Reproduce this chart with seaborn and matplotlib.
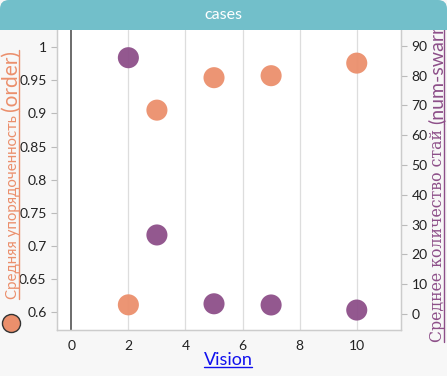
import matplotlib
matplotlib.use("Agg")
import matplotlib.pyplot as plt
import seaborn as sns
import pandas as pd
from matplotlib.patches import FancyBboxPatch, Rectangle
from matplotlib.lines import Line2D

vision = [2, 3, 5, 7, 10]
order = [0.611, 0.905, 0.954, 0.957, 0.976]
num_swarm = [86.0, 26.5, 3.4, 3.0, 1.3]

x_ticks = [0, 2, 4, 6, 8, 10]
left_ticks = [0.6, 0.65, 0.7, 0.75, 0.8, 0.85, 0.9, 0.95, 1]
left_tick_labels = ["0.6", "0.65", "0.7", "0.75", "0.8", "0.85", "0.9", "0.95", "1"]
right_ticks = [0, 10, 20, 30, 40, 50, 60, 70, 80, 90]

orange = "#EB8F6C"
purple = "#8D4F89"
teal = "#72BFCA"
grid_c = "#DDDDDD"
tick_c = "#222222"

df = pd.DataFrame({"vision": vision, "order": order, "num_swarm": num_swarm})

sns.set_style("white")
plt.rcParams["font.family"] = ["Lato", "DejaVu Sans"]

W, H = 447, 376
fig = plt.figure(figsize=(W / 100, H / 100), dpi=100, facecolor="#F7F7F7")


def fx(px):
    return px / W


def fy(py):
    return 1 - py / H


ax = fig.add_axes([fx(57), fy(330), fx(401 - 57), 300 / H])
ax.set_facecolor("white")
ax2 = ax.twinx()

sns.scatterplot(data=df, x="vision", y="order", ax=ax, color=orange, s=230,
                edgecolor="none", alpha=0.95, zorder=3, legend=False)
sns.scatterplot(data=df, x="vision", y="num_swarm", ax=ax2, color=purple, s=230,
                edgecolor="none", alpha=0.95, zorder=3, legend=False)

ax.set_xlim(-0.5, 11.55)
ax.set_ylim(0.573, 1.026)
ax2.set_ylim(-5.4, 95.3)

ax.set_xticks(x_ticks)
for xv in x_ticks[1:]:
    ax.axvline(xv, color=grid_c, lw=0.9, zorder=0)
ax.axvline(0, color="#444444", lw=1.1, zorder=1)

ax.set_yticks(left_ticks)
ax.set_yticklabels(left_tick_labels)
ax2.set_yticks(right_ticks)

for a in (ax, ax2):
    for s in a.spines.values():
        s.set_color("#CCCCCC")
        s.set_linewidth(0.9)
    a.spines["top"].set_visible(False)
    a.tick_params(colors="#BBBBBB", labelcolor=tick_c, labelsize=10, length=4, width=0.8)
    a.set_xlabel("")
    a.set_ylabel("")

fig.canvas.draw()
r = fig.canvas.get_renderer()


def underline_h(t, color, off=1):
    bb = t.get_window_extent(r)
    y = bb.y0 + off
    fig.add_artist(Line2D([bb.x0 / W, bb.x1 / W], [y / H, y / H],
                          transform=fig.transFigure, color=color, lw=1))


def underline_v(t, xpx, color):
    bb = t.get_window_extent(r)
    fig.add_artist(Line2D([fx(xpx), fx(xpx)], [bb.y0 / H, bb.y1 / H],
                          transform=fig.transFigure, color=color, lw=1))


# x label
xl = fig.text(fx(228), fy(360), "Vision", color="#1010EE", fontsize=13,
              ha="center", va="center")
underline_h(xl, "#1010EE")

# left label (baseline on the right side of the rotated text)
t1 = fig.text(fx(17), fy(299), "Средняя упорядоченность ", color=orange, fontsize=10.8,
              rotation=90, ha="left", va="baseline", rotation_mode="anchor")
fig.canvas.draw()
bb1 = t1.get_window_extent(r)
t2 = fig.text(fx(17), bb1.y1 / H, "(order)", color=orange, fontsize=15,
              rotation=90, ha="left", va="baseline", rotation_mode="anchor")
fig.canvas.draw()
for t in (t1, t2):
    underline_v(t, 19, orange)
fig.add_artist(Line2D([fx(11)], [fy(323)], transform=fig.transFigure, marker="o",
                      markersize=13, markerfacecolor=orange, markeredgecolor="#333333",
                      markeredgewidth=1))

# right label
t3 = fig.text(fx(442), fy(342), "Среднее количество стай ", color=purple, fontsize=11.3,
              rotation=90, ha="left", va="baseline", rotation_mode="anchor",
              family=["DejaVu Serif"])
fig.canvas.draw()
bb3 = t3.get_window_extent(r)
t4 = fig.text(fx(442), bb3.y1 / H, "(num-swarm)", color=purple, fontsize=14,
              rotation=90, ha="left", va="baseline", rotation_mode="anchor")
fig.canvas.draw()
for t in (t3, t4):
    underline_v(t, 444, purple)

# title band on top, so label overflow is hidden under it
fig.add_artist(Rectangle((0, fy(30)), 1, 14 / H, transform=fig.transFigure,
                         facecolor=teal, edgecolor="none", zorder=5))
fig.add_artist(FancyBboxPatch((fx(0), fy(30)), 1, 30 / H,
                              boxstyle="round,pad=0,rounding_size=0.02",
                              transform=fig.transFigure, facecolor=teal, edgecolor="none",
                              mutation_aspect=W / H, zorder=5))
fig.text(0.5, fy(15), "cases", color="white", ha="center", va="center", fontsize=11.5,
         zorder=6)

fig.savefig("out.png", dpi=100, facecolor=fig.get_facecolor())
